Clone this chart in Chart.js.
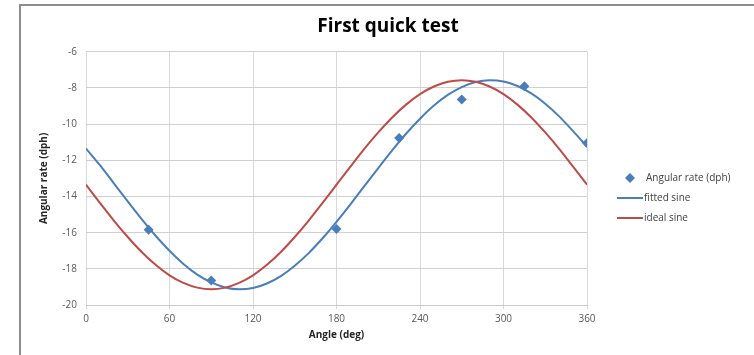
<!DOCTYPE html>
<html lang="en">
<head>
<meta charset="UTF-8">
<title>First quick test</title>
<script src="https://cdn.jsdelivr.net/npm/chart.js"></script>
<style>
  body { margin: 0; background: #fff; }
  #wrap { position: relative; width: 754px; height: 355px; }
  #frame { position: absolute; left: 19px; top: 4px; right: 0; bottom: 0;
           border-top: 2px solid #8e8e8e; border-left: 2px solid #8e8e8e; pointer-events: none; }
</style>
</head>
<body>
<div id="wrap">
  <canvas id="chart" width="754" height="355"></canvas>
  <div id="frame"></div>
</div>
<script>
// curve sample angles (deg)
const curveAngles = [0, 10, 20, 30, 40, 50, 60, 70, 80, 90, 100, 110, 120, 130, 140, 150, 160, 170, 180,
  190, 200, 210, 220, 230, 240, 250, 260, 270, 280, 290, 300, 310, 320, 330, 340, 350, 360];

// fitted sine (blue)
const fittedSine = [-11.35, -12.27, -13.27, -14.27, -15.25, -16.17, -17.00, -17.73, -18.32, -18.75,
  -19.03, -19.13, -19.06, -18.81, -18.40, -17.83, -17.13, -16.31, -15.40, -14.43, -13.43, -12.43,
  -11.45, -10.53, -9.70, -8.97, -8.38, -7.95, -7.67, -7.57, -7.64, -7.89, -8.30, -8.87, -9.57,
  -10.39, -11.25];

// ideal sine (red)
const idealSine = [-13.35, -14.35, -15.33, -16.24, -17.07, -17.78, -18.36, -18.78, -19.04, -19.13,
  -19.04, -18.78, -18.36, -17.78, -17.07, -16.24, -15.33, -14.35, -13.35, -12.35, -11.37, -10.46,
  -9.63, -8.92, -8.34, -7.92, -7.66, -7.57, -7.66, -7.92, -8.34, -8.92, -9.63, -10.46, -11.37,
  -12.35, -13.35];

// measured points
const sampleAngles = [45, 90, 180, 225, 270, 315, 360];
const angularRate = [-15.84, -18.65, -15.8, -10.77, -8.64, -7.9, -11.04];

const xTicks = [0, 60, 120, 180, 240, 300, 360];
const yTicks = [-20, -18, -16, -14, -12, -10, -8, -6];

const seriesNames = ['Angular rate (dph)', 'fitted sine', 'ideal sine'];
const blue = '#4a7ebb';
const red = '#be4b48';
const font = "'Open Sans', 'Liberation Sans', sans-serif";

function toPoints(xs, ys) {
  return xs.map((x, i) => ({ x: x, y: ys[i] }));
}

// legend on the right, drawn by hand so it sits where Excel put it
const sideLegend = {
  id: 'sideLegend',
  afterDraw(chart) {
    const ctx = chart.ctx;
    ctx.save();
    ctx.font = '10px ' + font;
    ctx.textBaseline = 'middle';
    // diamond
    ctx.fillStyle = blue;
    ctx.beginPath();
    ctx.moveTo(630, 173); ctx.lineTo(635, 178); ctx.lineTo(630, 183); ctx.lineTo(625, 178);
    ctx.closePath(); ctx.fill();
    ctx.fillStyle = '#404040';
    ctx.fillText(seriesNames[0], 646, 178);
    // lines
    ctx.lineWidth = 2;
    ctx.strokeStyle = blue;
    ctx.beginPath(); ctx.moveTo(617, 198); ctx.lineTo(643, 198); ctx.stroke();
    ctx.fillText(seriesNames[1], 644, 198);
    ctx.strokeStyle = red;
    ctx.beginPath(); ctx.moveTo(617, 218); ctx.lineTo(643, 218); ctx.stroke();
    ctx.fillText(seriesNames[2], 644, 218);
    ctx.restore();
  }
};

new Chart(document.getElementById('chart'), {
  type: 'scatter',
  data: {
    datasets: [{
      label: seriesNames[0],
      data: toPoints(sampleAngles, angularRate),
      pointStyle: 'rectRot',
      pointRadius: 5,
      backgroundColor: blue,
      borderColor: blue,
      borderWidth: 0,
      order: 0
    }, {
      label: seriesNames[1],
      data: toPoints(curveAngles, fittedSine),
      showLine: true,
      pointRadius: 0,
      borderColor: blue,
      borderWidth: 2,
      cubicInterpolationMode: 'monotone',
      order: 2
    }, {
      label: seriesNames[2],
      data: toPoints(curveAngles, idealSine),
      showLine: true,
      pointRadius: 0,
      borderColor: red,
      borderWidth: 2,
      cubicInterpolationMode: 'monotone',
      order: 1
    }]
  },
  options: {
    responsive: false,
    animation: false,
    layout: { padding: { left: 22, right: 0, top: 0, bottom: 0 } },
    plugins: {
      legend: { display: false },
      tooltip: { enabled: false },
      title: {
        display: true,
        text: 'First quick test',
        color: '#000',
        font: { family: font, size: 19, weight: 'bold' },
        padding: { top: 15, bottom: 14 }
      }
    },
    scales: {
      x: {
        type: 'linear',
        min: 0, max: 360,
        afterBuildTicks: s => { s.ticks = xTicks.map(v => ({ value: v })); },
        afterFit: s => { s.height = 50; },
        grid: { color: '#d9d9d9', drawTicks: true, tickLength: 4 },
        border: { color: '#c8c8c8', width: 1 },
        ticks: { color: '#595959', font: { family: font, size: 10 }, padding: 4 },
        title: {
          display: true, text: 'Angle (deg)', color: '#262626',
          font: { family: font, size: 10, weight: 'bold' },
          padding: { top: 4, bottom: 14 }
        }
      },
      y: {
        min: -20, max: -6,
        afterBuildTicks: s => { s.ticks = yTicks.map(v => ({ value: v })); },
        afterFit: s => { s.width = 64; },
        grid: { color: '#d0d0d0', drawTicks: false },
        border: { display: false },
        ticks: { color: '#595959', font: { family: font, size: 10 }, padding: 9 },
        title: {
          display: true, text: 'Angular rate (dph)', color: '#262626',
          font: { family: font, size: 10, weight: 'bold' },
          padding: { top: 16, bottom: 0 }
        }
      },
      // empty box on the right that leaves room for the legend
      side: {
        position: 'right',
        display: true,
        afterFit: s => { s.width = 167; },
        grid: { display: false, drawOnChartArea: false },
        border: { display: false },
        ticks: { display: false }
      }
    }
  },
  plugins: [sideLegend]
});
</script>
</body>
</html>
